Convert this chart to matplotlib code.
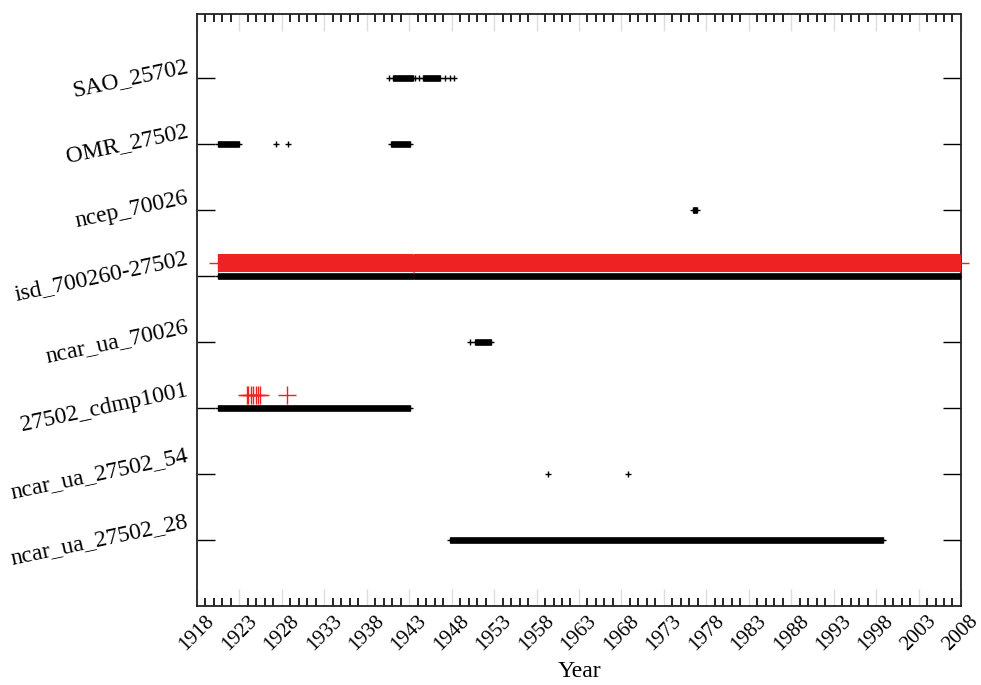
#------------------------------------------------imports---------------------------------------------------------------
import matplotlib
matplotlib.use('Agg')
import matplotlib.pyplot as plt
from matplotlib.ticker import MultipleLocator

plt.rcParams['font.family'] = ['Liberation Serif', 'DejaVu Serif']

#--------------------------------------------------data----------------------------------------------------------------
stations = ['ncar_ua_27502_28', 'ncar_ua_27502_54', '27502_cdmp1001', 'ncar_ua_70026',
            'isd_700260-27502', 'ncep_70026', 'OMR_27502', 'SAO_25702']

# dense observation periods (start year, end year) drawn as black bars
black_periods = {
    'SAO_25702': [(1941.1, 1943.4), (1944.6, 1946.6)],
    'OMR_27502': [(1920.5, 1923.0), (1940.9, 1943.1)],
    'ncep_70026': [(1976.4, 1976.9)],
    'isd_700260-27502': [(1920.5, 1943.4), (1943.6, 2007.9)],
    'ncar_ua_70026': [(1950.8, 1952.6)],
    '27502_cdmp1001': [(1920.5, 1943.1)],
    'ncar_ua_27502_54': [],
    'ncar_ua_27502_28': [(1947.8, 1998.8)],
}

# single observations drawn as black crosses
black_points = {
    'SAO_25702': [1940.6, 1943.7, 1944.2, 1947.2, 1947.8, 1948.3],
    'OMR_27502': [1927.3, 1928.7],
    'ncar_ua_70026': [1950.2],
    'ncar_ua_27502_54': [1959.4, 1968.8],
}

# second source (red)
red_periods = {
    'isd_700260-27502': [(1920.5, 1943.4), (1943.6, 2007.9)],
}
red_points = {
    '27502_cdmp1001': [1923.85, 1924.0, 1924.4, 1924.6, 1924.9, 1925.2, 1925.4, 1928.55],
}

year_ticks = list(range(1918, 2009, 5))

#--------------------------------------------------plotting------------------------------------------------------------
fig = plt.figure(figsize=(9.81, 6.85), dpi=100)
ax = fig.add_axes([0.2008, 0.1153, 0.7788, 0.8643])

RED = '#ee2222'
pos = {name: i + 1 for i, name in enumerate(stations)}

for name, periods in black_periods.items():
    y = pos[name]
    for s, e in periods:
        ax.hlines(y, s, e, color='black', lw=4.8, capstyle='butt', zorder=3)
        ax.plot([s, e], [y, y], '+', color='black', ms=5, mew=1, zorder=3)

for name, pts in black_points.items():
    y = pos[name]
    ax.plot(pts, [y] * len(pts), '+', color='black', ms=5, mew=1, zorder=3)

for name, periods in red_periods.items():
    y = pos[name] + 0.2
    for s, e in periods:
        ax.hlines(y, s, e, color=RED, lw=13, capstyle='butt', zorder=4)
        ax.plot([s, e], [y, y], '+', color=RED, ms=13, mew=1, zorder=4, clip_on=False)

for name, pts in red_points.items():
    y = pos[name] + 0.2
    ax.plot(pts, [y] * len(pts), '+', color=RED, ms=13, mew=1, zorder=4)

#--------------------------------------------------axes----------------------------------------------------------------
ax.set_xlim(1918, 2008)
ax.set_ylim(0, 8.97)

ax.set_xticks(year_ticks)
ax.set_xticklabels([str(t) for t in year_ticks], rotation=45, ha='center', va='top', fontsize=15)
ax.xaxis.set_minor_locator(MultipleLocator(1))
ax.tick_params(axis='x', which='major', direction='in', length=12, width=1,
               color='#dddddd', top=True, bottom=True, pad=4)
ax.tick_params(axis='x', which='minor', direction='in', length=6, width=1.2,
               color='black', top=True, bottom=True)

ax.set_yticks([pos[n] for n in stations])
ax.set_yticklabels(stations, rotation=12, ha='right', va='center', fontsize=17)
ax.tick_params(axis='y', which='major', direction='in', length=13, width=1,
               color='black', left=True, right=True, pad=5)

for sp in ax.spines.values():
    sp.set_linewidth(1.3)
    sp.set_color('#222222')

ax.set_xlabel('Year', fontsize=17, labelpad=5)

#----------------------------------------------------saving------------------------------------------------------------
fig.savefig('out.png', dpi=100)
